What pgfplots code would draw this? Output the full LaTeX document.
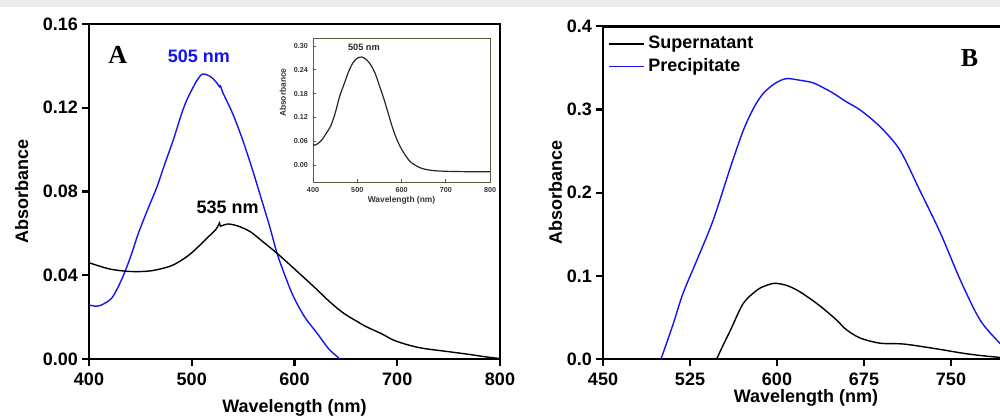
\documentclass[border=0pt]{standalone}
\usepackage{fontspec}
\setmainfont{Liberation Sans}
\newfontfamily\serifbf{Liberation Serif}
\usepackage{pgfplots}
\pgfplotsset{compat=1.18}
\definecolor{specblue}{RGB}{20,20,240}
\definecolor{insetframe}{RGB}{90,90,60}

\pgfplotstableread{
nm A
400 0.0258
405 0.0253
410 0.0254
416 0.0268
422 0.0290
428 0.0340
435 0.0417
442 0.0510
448 0.0600
458 0.0725
466 0.0820
474 0.0935
482 0.1046
490 0.1170
495 0.1235
500 0.1285
505 0.1330
510 0.1360
515 0.1357
520 0.1342
525 0.1315
527 0.1300
528 0.1305
530 0.1275
540 0.1170
550 0.1040
560 0.0890
568 0.0760
576 0.0630
583 0.0505
591 0.0395
599 0.0298
610 0.0200
622 0.0123
633 0.0050
640 0.0018
644 0.0000
}\blueA

\pgfplotstableread{
nm A
400 0.0460
420 0.0430
440 0.0418
460 0.0421
480 0.0445
495 0.0488
505 0.0530
515 0.0578
524 0.0622
527 0.0650
528 0.0635
535 0.0645
545 0.0635
557 0.0608
570 0.0557
583 0.0505
600 0.0430
620 0.0340
635 0.0270
648 0.0218
660 0.0182
670 0.0154
685 0.0120
696 0.0091
710 0.0068
725 0.0051
750 0.0035
770 0.0022
785 0.0011
800 0.0002
}\blackA

\pgfplotstableread{
nm A
400 0.052
405 0.050
410 0.053
420 0.063
430 0.080
440 0.098
450 0.130
460 0.172
470 0.203
480 0.234
490 0.257
500 0.269
510 0.272
520 0.266
530 0.253
540 0.232
550 0.200
560 0.167
570 0.130
580 0.093
590 0.063
600 0.040
610 0.022
620 0.008
630 0.000
640 -0.006
650 -0.010
670 -0.014
700 -0.016
750 -0.017
800 -0.017
}\insetA

\pgfplotstableread{
nm A
500 0.000
510 0.040
519 0.079
531 0.119
545 0.167
560 0.231
571 0.275
580 0.302
588 0.319
598 0.331
608 0.337
620 0.335
631 0.332
640 0.326
649 0.319
660 0.309
672 0.299
689 0.279
706 0.251
723 0.203
741 0.151
758 0.095
775 0.047
792 0.019
800 0.008
}\blueB

\pgfplotstableread{
nm A
548 0.000
553 0.015
560 0.035
571 0.067
583 0.083
590 0.088
598 0.091
608 0.0886
617 0.083
626 0.075
635 0.066
643 0.057
652 0.046
660 0.035
672 0.025
689 0.019
709 0.018
735 0.0128
761 0.0068
780 0.0035
800 0.0010
}\blackB

\pgfplotsset{
  panel/.style={
    scale only axis,
    anchor=south west,
    axis line style={line width=1.3pt},
    tick style={line width=1.1pt, black},
    tick align=outside,
    major tick length=3.5pt,
    xtick pos=bottom, ytick pos=left,
    ticklabel style={font=\fontsize{9}{10}\selectfont\bfseries},
    label style={font=\fontsize{9}{10}\selectfont\bfseries},
    /pgf/number format/assume math mode=true,
    clip=true,
  },
}

\begin{document}
\begin{tikzpicture}[x=1pt,y=1pt]
\clip (0,0) rectangle (500,209.5);
\fill[gray!15] (0,206) rectangle (500,209.5);

% ---- panel A ----
\begin{axis}[panel,
  at={(44.5pt,30pt)}, width=205.5pt, height=167.5pt,
  xmin=400, xmax=800, ymin=0, ymax=0.16,
  xtick={400,500,600,700,800},
  ytick={0,0.04,0.08,0.12,0.16},
  yticklabel style={/pgf/number format/fixed, /pgf/number format/fixed zerofill, /pgf/number format/precision=2, xshift=1.5pt},
  xlabel={Wavelength (nm)}, ylabel={Absorbance},
  xlabel style={at={(axis description cs:0.5,-0.146)}, anchor=center},
  ylabel style={at={(axis description cs:-0.164,0.5)}, anchor=center},
]
\addplot[specblue, line width=0.7pt, smooth] table[x=nm,y=A] {\blueA};
\addplot[black, line width=0.7pt, smooth] table[x=nm,y=A] {\blackA};
\node[font=\fontsize{13}{14}\selectfont\serifbf\bfseries] at (axis cs:428,0.145) {A};
\node[font=\fontsize{9}{10}\selectfont\bfseries, text=specblue] at (axis cs:507,0.1447) {505 nm};
\node[font=\fontsize{9}{10}\selectfont\bfseries] at (axis cs:535,0.0723) {535 nm};
\end{axis}

% ---- inset ----
\begin{axis}[
  scale only axis, anchor=south west,
  at={(156.5pt,118.5pt)}, width=88.5pt, height=72pt,
  xmin=400, xmax=800, ymin=-0.043, ymax=0.320,
  axis line style={insetframe, line width=0.5pt},
  tick style={insetframe, line width=0.4pt},
  tick align=inside, major tick length=1.5pt,
  xtick={400,500,600,700,800},
  ytick={0,0.06,0.12,0.18,0.24,0.30},
  xtick pos=bottom, ytick pos=left,
  yticklabel style={/pgf/number format/fixed, /pgf/number format/fixed zerofill, /pgf/number format/precision=2, xshift=1pt},
  ticklabel style={font=\fontsize{3.6}{4}\selectfont\bfseries, text=black!80},
  xticklabel style={yshift=1pt},
  label style={font=\fontsize{4.2}{5}\selectfont\bfseries, text=black!80},
  /pgf/number format/assume math mode=true,
  xlabel={Wavelength (nm)}, ylabel={Absorbance},
  xlabel style={at={(axis description cs:0.5,-0.13)}, anchor=center},
  ylabel style={at={(axis description cs:-0.17,0.62)}, anchor=center},
]
\addplot[black!85, line width=0.6pt, smooth] table[x=nm,y=A] {\insetA};
\node[font=\fontsize{4.6}{5}\selectfont\bfseries, text=black!85] at (axis cs:515,0.296) {505 nm};
\end{axis}

% ---- panel B ----
\begin{axis}[panel,
  at={(301.5pt,30pt)}, width=203pt, height=166.4pt,
  xmin=450, xmax=800, ymin=0, ymax=0.4,
  xtick={450,525,600,675,750},
  ytick={0,0.1,0.2,0.3,0.4},
  yticklabel style={/pgf/number format/fixed, /pgf/number format/fixed zerofill, /pgf/number format/precision=1, xshift=1.5pt},
  xlabel={Wavelength (nm)}, ylabel={Absorbance},
  xlabel style={at={(axis description cs:0.5,-0.117)}, anchor=center},
  ylabel style={at={(axis description cs:-0.117,0.5)}, anchor=center},
  legend style={draw=none, fill=none, at={(axis description cs:0.008,0.99)}, anchor=north west,
    font=\fontsize{9}{10}\selectfont\bfseries, row sep=-0.5pt, inner sep=1pt},
  legend cell align=left,
]
\addlegendimage{black, line width=0.8pt}
\addlegendentry{Supernatant}
\addlegendimage{color=specblue, line width=0.8pt}
\addlegendentry{Precipitate}
\addplot[black, line width=0.7pt, smooth, forget plot] table[x=nm,y=A] {\blackB};
\addplot[specblue, line width=0.7pt, smooth, forget plot] table[x=nm,y=A] {\blueB};
\node[font=\fontsize{13}{14}\selectfont\serifbf\bfseries] at (axis cs:766,0.362) {B};
\end{axis}
\end{tikzpicture}
\end{document}
